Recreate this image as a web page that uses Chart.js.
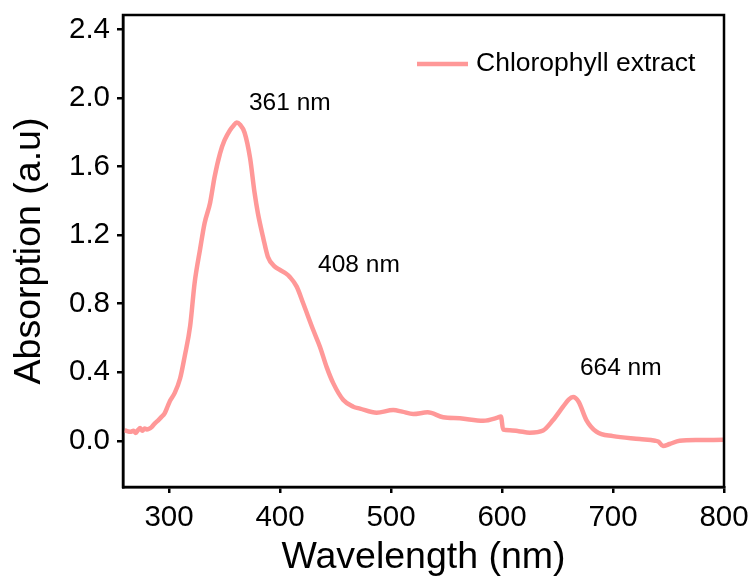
<!DOCTYPE html>
<html>
<head>
<meta charset="utf-8">
<script src="https://cdn.jsdelivr.net/npm/chart.js@4"></script>
<style>
  body { margin: 0; background: #fff; }
  #wrap { width: 752px; height: 586px; }
</style>
</head>
<body>
<div id="wrap"><canvas id="spectrum"></canvas></div>
<script>
// UV-Vis spectrum of the chlorophyll extract
const wavelength = [260, 263, 265, 268, 270, 272, 274, 276, 278, 280, 282, 284, 287, 290, 293, 296, 299, 301,
  305, 310, 314, 319, 323, 328, 332, 337, 341, 346, 350, 355, 358, 361, 364, 368, 373, 377, 380, 385, 389,
  395, 400, 405, 409, 415, 421, 430, 436, 442, 448, 457, 466, 472, 487, 502, 510, 520, 533, 547, 562, 583,
  596, 599, 601, 607, 615, 625, 637, 646, 655, 660, 664, 669, 676, 685, 700, 724, 738, 741, 745, 751, 760,
  778, 800];
const absorbance = [0.062, 0.055, 0.052, 0.058, 0.046, 0.062, 0.074, 0.058, 0.072, 0.066, 0.070, 0.078, 0.100,
  0.118, 0.138, 0.160, 0.205, 0.235, 0.278, 0.365, 0.49, 0.67, 0.92, 1.12, 1.27, 1.39, 1.54, 1.68, 1.755,
  1.815, 1.84, 1.858, 1.845, 1.80, 1.65, 1.45, 1.33, 1.18, 1.075, 1.018, 0.997, 0.978, 0.955, 0.90, 0.80,
  0.645, 0.548, 0.43, 0.335, 0.238, 0.199, 0.188, 0.164, 0.179, 0.17, 0.156, 0.166, 0.137, 0.131, 0.117,
  0.135, 0.142, 0.065, 0.062, 0.056, 0.047, 0.060, 0.121, 0.199, 0.240, 0.255, 0.228, 0.121, 0.053, 0.027,
  0.010, 0.000, -0.005, -0.031, -0.019, 0.000, 0.004, 0.006];

const xTicks = [300, 400, 500, 600, 700, 800];
const yTicks = [0, 0.4, 0.8, 1.2, 1.6, 2.0, 2.4];

// peak labels: text and where it sits (data units, left edge / middle)
const peakLabels = ['361 nm', '408 nm', '664 nm'];
const peakLabelX = [372, 434.3, 670.2];
const peakLabelY = [1.968, 1.026, 0.425];

const FONT = "'Liberation Sans', Arial, sans-serif";
const LINE_COLOR = '#ff9898';

// box around the plot, peak annotations and the legend inside the plot
const extras = {
  id: 'extras',
  afterDatasetsDraw(chart) {
    const { ctx, chartArea: a, scales } = chart;
    ctx.save();
    ctx.strokeStyle = '#000';
    ctx.lineWidth = 2.5;
    ctx.strokeRect(a.left, a.top, a.right - a.left, a.bottom - a.top);

    ctx.fillStyle = '#000';
    ctx.font = '24.5px ' + FONT;
    ctx.textAlign = 'left';
    ctx.textBaseline = 'middle';
    peakLabels.forEach((t, i) => {
      ctx.fillText(t, scales.x.getPixelForValue(peakLabelX[i]), scales.y.getPixelForValue(peakLabelY[i]));
    });

    const ds = chart.data.datasets[0];
    const ly = a.top + 49;
    ctx.strokeStyle = ds.borderColor;
    ctx.lineWidth = 4.5;
    ctx.beginPath();
    ctx.moveTo(a.right - 307, ly);
    ctx.lineTo(a.right - 256, ly);
    ctx.stroke();
    ctx.font = '26.5px ' + FONT;
    ctx.fillText(ds.label, a.right - 248, ly);
    ctx.restore();
  }
};

new Chart(document.getElementById('spectrum'), {
  type: 'line',
  data: {
    datasets: [{
      label: 'Chlorophyll extract',
      data: wavelength.map((w, i) => ({ x: w, y: absorbance[i] })),
      borderColor: LINE_COLOR,
      borderWidth: 4.5,
      pointRadius: 0,
      cubicInterpolationMode: 'monotone'
    }]
  },
  options: {
    responsive: true,
    maintainAspectRatio: false,
    animation: false,
    layout: { padding: { top: 15, right: 28, left: 0, bottom: 0 } },
    plugins: { legend: { display: false }, tooltip: { enabled: false } },
    scales: {
      x: {
        type: 'linear',
        min: 258.5,
        max: 800,
        afterBuildTicks: s => { s.ticks = xTicks.map(v => ({ value: v })); },
        afterFit: s => { s.height = 99; s.paddingLeft = 0; s.paddingRight = 0; },
        grid: { drawOnChartArea: false, drawTicks: true, tickLength: 6, color: '#000', lineWidth: 2.5 },
        border: { color: '#000', width: 2.5 },
        ticks: { color: '#000', padding: 7, maxRotation: 0, font: { family: FONT, size: 29.5 }, callback: v => v },
        title: { display: true, text: 'Wavelength (nm)', color: '#000',
          font: { family: FONT, size: 37.5 }, padding: { top: 0, bottom: 6 } }
      },
      y: {
        min: -0.27,
        max: 2.486,
        afterBuildTicks: s => { s.ticks = yTicks.map(v => ({ value: v })); },
        afterFit: s => { s.width = 123; s.paddingTop = 0; s.paddingBottom = 0; },
        grid: { drawOnChartArea: false, drawTicks: true, tickLength: 6, color: '#000', lineWidth: 2.5 },
        border: { color: '#000', width: 2.5 },
        ticks: { color: '#000', padding: 7, font: { family: FONT, size: 29.5 }, callback: v => v.toFixed(1) },
        title: { display: true, text: 'Absorption (a.u)', color: '#000',
          font: { family: FONT, size: 37.5 }, padding: { top: 7, bottom: 0 } }
      }
    }
  },
  plugins: [extras]
});
</script>
</body>
</html>
